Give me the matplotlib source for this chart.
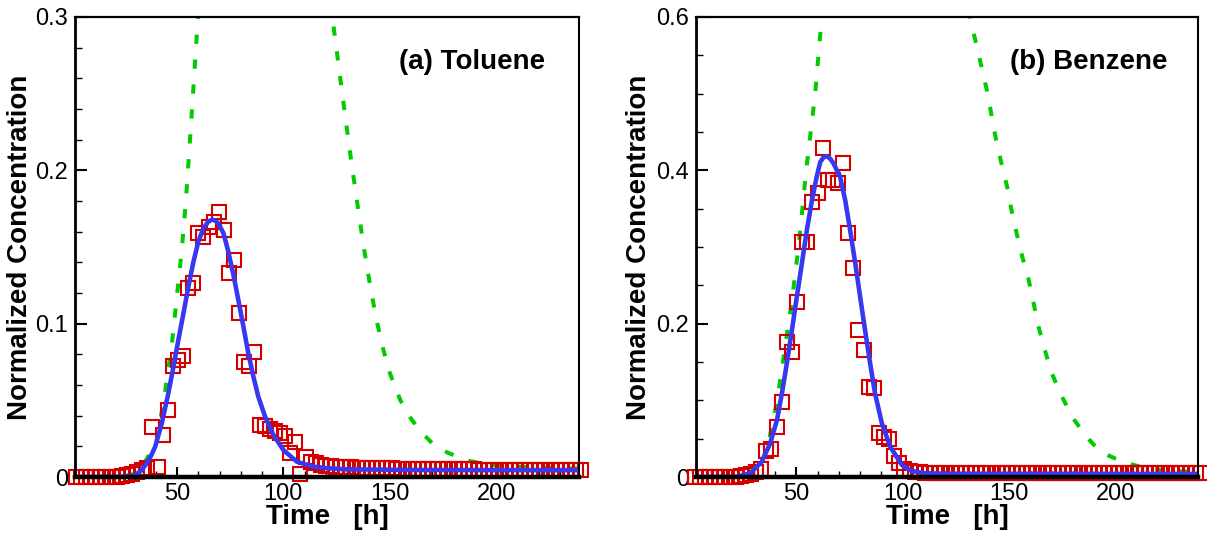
import matplotlib
matplotlib.use('Agg')
import matplotlib.pyplot as plt
from matplotlib.ticker import MultipleLocator, FixedLocator, FuncFormatter

plt.rcParams['font.family'] = ['Liberation Sans', 'DejaVu Sans']

# ---------------- data ----------------
time_obs = [2.4, 4.8, 7.2, 9.6, 12.0, 14.4, 16.8, 19.2, 21.6, 24.0,
            26.4, 28.8, 31.2, 33.6, 36.0, 38.4, 40.8, 43.2, 45.6, 48.0,
            50.4, 52.8, 55.2, 57.6, 60.0, 62.4, 64.8, 67.2, 69.6, 72.0,
            74.4, 76.8, 79.2, 81.6, 84.0, 86.4, 88.8, 91.2, 93.6, 96.0,
            98.4, 100.8, 103.2, 105.6, 108.0, 110.4, 112.8, 115.2, 117.6, 120.0,
            122.4, 124.8, 127.2, 129.6, 132.0, 134.4, 136.8, 139.2, 141.6, 144.0,
            146.4, 148.8, 151.2, 153.6, 156.0, 158.4, 160.8, 163.2, 165.6, 168.0,
            170.4, 172.8, 175.2, 177.6, 180.0, 182.4, 184.8, 187.2, 189.6, 192.0,
            194.4, 196.8, 199.2, 201.6, 204.0, 206.4, 208.8, 211.2, 213.6, 216.0,
            218.4, 220.8, 223.2, 225.6, 228.0, 230.4, 232.8, 235.2, 237.6, 240.0]

toluene_obs = [0.0, 0.0, 0.0, 0.0, 0.0, 0.0, 0.0, 0.0, 0.0, 0.0005,
               0.0013, 0.002, 0.0035, 0.0045, 0.0057, 0.0324, 0.0067, 0.0274, 0.0437, 0.0724,
               0.0765, 0.079, 0.123, 0.1263, 0.159, 0.1568, 0.163, 0.1666, 0.173, 0.161,
               0.133, 0.1416, 0.1068, 0.0747, 0.0724, 0.0815, 0.0339, 0.0335, 0.031, 0.030,
               0.0285, 0.0265, 0.0155, 0.0231, 0.0018, 0.013, 0.0098, 0.009, 0.008, 0.0075,
               0.007, 0.0068, 0.0066, 0.0064, 0.0062, 0.006, 0.006, 0.0059, 0.0058, 0.0058,
               0.0057, 0.0056, 0.0056, 0.0055, 0.0055, 0.0054, 0.0054, 0.0053, 0.0053, 0.0052,
               0.0052, 0.0051, 0.0051, 0.005, 0.005, 0.005, 0.0049, 0.0049, 0.0049, 0.0048,
               0.0048, 0.0048, 0.0047, 0.0047, 0.0047, 0.0047, 0.0046, 0.0046, 0.0046, 0.0046,
               0.0045, 0.0045, 0.0045, 0.0045, 0.0045, 0.0045, 0.0045, 0.0045, 0.0045, 0.0045]

benzene_obs = [0.0, 0.0, 0.0, 0.0, 0.0, 0.0, 0.0, 0.0, 0.0, 0.001,
               0.003, 0.004, 0.007, 0.010, 0.034, 0.036, 0.0656, 0.0982, 0.1765, 0.1635,
               0.2287, 0.307, 0.307, 0.359, 0.370, 0.4287, 0.387, 0.388, 0.383, 0.409,
               0.318, 0.272, 0.1917, 0.1657, 0.1178, 0.116, 0.057, 0.0526, 0.050, 0.028,
               0.018, 0.011, 0.008, 0.007, 0.006, 0.0055, 0.0053, 0.0052, 0.0051, 0.005,
               0.005, 0.005, 0.005, 0.005, 0.005, 0.005, 0.005, 0.005, 0.005, 0.005,
               0.005, 0.005, 0.005, 0.005, 0.005, 0.005, 0.005, 0.005, 0.005, 0.005,
               0.005, 0.005, 0.005, 0.005, 0.005, 0.005, 0.005, 0.005, 0.005, 0.005,
               0.005, 0.005, 0.005, 0.005, 0.005, 0.005, 0.005, 0.005, 0.005, 0.005,
               0.005, 0.005, 0.005, 0.005, 0.005, 0.005, 0.005, 0.005, 0.005, 0.005]

# fitted model (blue solid)
toluene_fit_t = [2, 20, 28, 30.3, 33, 35.8, 37.8, 39.7, 42.8, 45.9, 48.3, 50.6, 53, 55.3,
                 57.7, 60, 62.4, 64.7, 66.5, 68, 69.4, 71.8, 74.1, 76.5, 78.8, 81.2, 83.5,
                 85.9, 88.2, 91.4, 95.3, 100, 106.3, 114, 120, 130, 160, 200, 240]
toluene_fit_c = [0, 0, 0.0005, 0.0013, 0.004, 0.009, 0.014, 0.0198, 0.035, 0.0546, 0.072,
                 0.0894, 0.1068, 0.124, 0.1404, 0.1535, 0.1622, 0.1666, 0.1678, 0.1672,
                 0.1655, 0.159, 0.147, 0.1318, 0.1155, 0.098, 0.0807, 0.0654, 0.0524,
                 0.0393, 0.0274, 0.0176, 0.010, 0.0068, 0.0058, 0.005, 0.0046, 0.0045, 0.0045]

benzene_fit_t = [2, 18, 22.2, 28.4, 33.9, 37.8, 41, 43.3, 45.6, 48, 50.3, 52.7, 55, 57.4,
                 59.5, 61.3, 63, 64.4, 66, 67.5, 70.6, 73, 75.3, 77.7, 80, 82.3, 84.7, 87,
                 90.2, 94.1, 99.6, 104, 110, 120, 240]
benzene_fit_c = [0, 0, 0.0005, 0.0048, 0.02, 0.044, 0.0743, 0.109, 0.148, 0.1917, 0.235,
                 0.279, 0.322, 0.361, 0.39, 0.411, 0.4175, 0.4185, 0.415, 0.409, 0.3917,
                 0.361, 0.322, 0.279, 0.235, 0.1917, 0.148, 0.109, 0.07, 0.0396, 0.0157,
                 0.008, 0.005, 0.0042, 0.004]

# equilibrium model (green dashed), rising and falling limbs
toluene_eq_rise_t = [2, 25, 30, 33, 35, 37.5, 40.5, 44.4, 47.5, 49.9, 52.2, 54.1, 55.6, 57.5, 59.4, 60.5]
toluene_eq_rise_c = [0, 0.0005, 0.002, 0.005, 0.010, 0.016, 0.024, 0.0557, 0.086, 0.1176, 0.148,
                     0.1796, 0.21, 0.25, 0.291, 0.31]
toluene_eq_fall_t = [122.5, 123, 126, 129, 132, 135, 138, 141, 144, 147, 150, 155, 160, 165,
                     170, 177, 187, 198, 210, 222, 240]
toluene_eq_fall_c = [0.31, 0.30, 0.268, 0.236, 0.205, 0.176, 0.148, 0.123, 0.101, 0.083, 0.068,
                     0.050, 0.038, 0.029, 0.022, 0.016, 0.0105, 0.0078, 0.0067, 0.006, 0.0055]

benzene_eq_rise_t = [2, 25, 30, 34, 37, 39, 41, 43, 45.6, 48, 51.1, 54.7, 58.9, 62, 62.5]
benzene_eq_rise_c = [0, 0.001, 0.005, 0.02, 0.045, 0.07, 0.10, 0.135, 0.185, 0.23, 0.30, 0.40,
                     0.50, 0.60, 0.62]
benzene_eq_fall_t = [131, 131.7, 135.3, 139.8, 143.4, 146.2, 149, 151, 153.5, 156.2, 159, 161,
                     163.5, 166.2, 169.8, 174.3, 179.8, 186, 192.7, 203.6, 214.6, 225.5, 240]
benzene_eq_fall_c = [0.61, 0.597, 0.555, 0.50, 0.445, 0.41, 0.378, 0.348, 0.317, 0.286, 0.258,
                     0.232, 0.198, 0.17, 0.136, 0.107, 0.077, 0.053, 0.033, 0.019, 0.0113,
                     0.0078, 0.0065]

panel_titles = ['(a) Toluene', '(b) Benzene']
y_max = [0.3, 0.6]
y_major = [0.1, 0.2]
y_minor = [0.02, 0.05]
x_ticks = [50, 100, 150, 200]
x_limits = [(2.0, 239.0), (3.0, 238.5)]

# ---------------- styling ----------------
RED = '#d40000'
BLUE = '#3838f0'
GREEN = '#00cc00'

fig = plt.figure(figsize=(12.07, 5.39), dpi=100)
W, H = 1207, 539
boxes = [(75, 579), (696, 1198)]
top_px, bot_px = 17, 477

panels = [
    (time_obs, toluene_obs, toluene_fit_t, toluene_fit_c,
     toluene_eq_rise_t, toluene_eq_rise_c, toluene_eq_fall_t, toluene_eq_fall_c),
    (time_obs, benzene_obs, benzene_fit_t, benzene_fit_c,
     benzene_eq_rise_t, benzene_eq_rise_c, benzene_eq_fall_t, benzene_eq_fall_c),
]

for i, (box, data) in enumerate(zip(boxes, panels)):
    l, r = box
    ax = fig.add_axes([l / W, 1 - bot_px / H, (r - l) / W, (bot_px - top_px) / H])
    t_obs, c_obs, ft, fc, ert, erc, eft, efc = data

    ax.plot(ert, erc, color=GREEN, lw=2.9, linestyle=(0, (2.3, 3.9)), dash_capstyle='butt', zorder=2)
    ax.plot(eft, efc, color=GREEN, lw=2.9, linestyle=(0, (2.3, 3.9)), dash_capstyle='butt', zorder=2)
    ax.plot(t_obs, c_obs, linestyle='none', marker='s', markersize=10.6, markerfacecolor='none',
            markeredgecolor=RED, markeredgewidth=1.5, clip_on=False, zorder=3)
    ax.plot(ft, fc, color=BLUE, lw=3.3, solid_capstyle='round', zorder=4)

    ax.set_xlim(*x_limits[i])
    ax.set_ylim(0, y_max[i])

    ax.xaxis.set_major_locator(FixedLocator(x_ticks))
    ax.xaxis.set_minor_locator(MultipleLocator(10))
    ax.yaxis.set_major_locator(MultipleLocator(y_major[i]))
    ax.yaxis.set_minor_locator(MultipleLocator(y_minor[i]))
    ax.yaxis.set_major_formatter(FuncFormatter(lambda v, p: '0' if abs(v) < 1e-9 else f'{v:.1f}'))

    ax.tick_params(axis='both', which='both', direction='in', top=False, right=False)
    ax.tick_params(axis='x', which='major', length=7.5, width=1.5, labelsize=17, pad=4)
    ax.tick_params(axis='x', which='minor', length=4, width=1.0)
    ax.tick_params(axis='y', which='major', length=8.5, width=1.5, labelsize=17, pad=5)
    ax.tick_params(axis='y', which='minor', length=5, width=1.0)

    ax.spines['bottom'].set_linewidth(3.2)
    ax.spines['left'].set_linewidth(2.0)
    ax.spines['top'].set_linewidth(1.6)
    ax.spines['right'].set_linewidth(1.5)
    for s in ax.spines.values():
        s.set_zorder(5)

    ax.set_xlabel('Time   [h]', fontsize=20, fontweight='bold', va='center')
    ax.xaxis.set_label_coords(0.5, (bot_px - 517) / (bot_px - top_px))
    ax.set_ylabel('Normalized Concentration', fontsize=20, fontweight='bold', va='center')
    lab_x = [20.5, 639.5][i]
    ax.yaxis.set_label_coords((lab_x - l) / (r - l), 0.5)

    title_right = [545, 1168][i]
    ax.text((title_right - l) / (r - l), (bot_px - 69) / (bot_px - top_px), panel_titles[i],
            transform=ax.transAxes, ha='right', va='baseline', fontsize=20, fontweight='bold')

fig.savefig('out.png', dpi=100)
